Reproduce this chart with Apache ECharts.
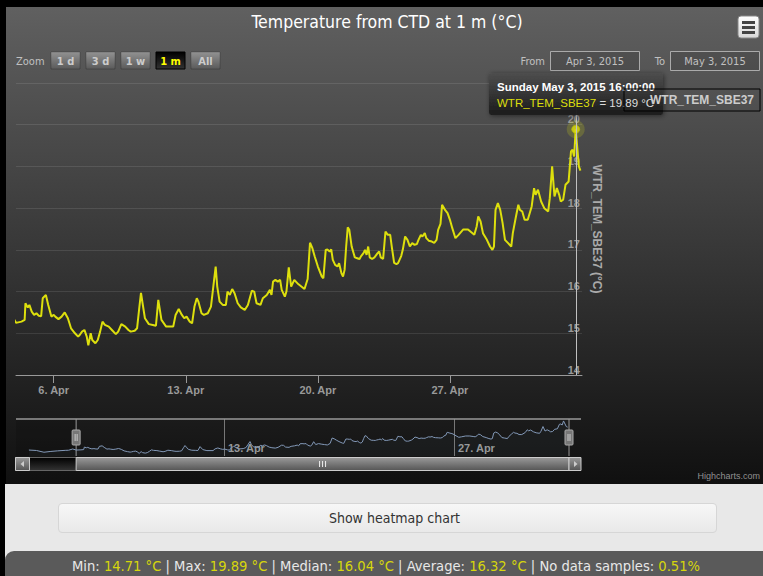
<!DOCTYPE html>
<html>
<head>
<meta charset="utf-8">
<title>Temperature from CTD at 1 m</title>
<script src="https://cdn.jsdelivr.net/npm/echarts@6/dist/echarts.min.js"></script>
<style>
  html, body { margin: 0; padding: 0; background: #000; width: 763px; height: 576px; overflow: hidden; }
  #chart { position: absolute; left: 6px; top: 7px; width: 757px; height: 477px; }
  .below { position: absolute; left: 5px; top: 484px; width: 758px; height: 92px; background: #e8e8e8; }
  .heatBtn {
    position: absolute; left: 53px; top: 19px; width: 657px; height: 28px;
    background: linear-gradient(#f7f7f7, #e9e9e9); border: 1px solid #d6d6d6; border-radius: 4px;
    color: #333; font: 14px "DejaVu Sans Condensed", "Liberation Sans Narrow", "Liberation Sans", sans-serif;
    text-align: center; line-height: 28px; text-indent: 14px;
  }
  .stats {
    position: absolute; left: 0; top: 67px; width: 758px; height: 30px;
    background: #5a5a5a; border-radius: 9px 0 0 0; color: #e8e8e8;
    font: 14.6px "DejaVu Sans Condensed", "Liberation Sans Narrow", "Liberation Sans", sans-serif;
    text-align: center; line-height: 29px; text-indent: 4px;
  }
  .stats span { color: #d6d60c; }
</style>
</head>
<body>
<div id="chart"></div>
<div class="below">
  <div class="heatBtn">Show heatmap chart</div>
  <div class="stats">Min: <span>14.71 °C</span> | Max: <span>19.89 °C</span> | Median: <span>16.04 °C</span> | Average: <span>16.32 °C</span> | No data samples: <span>0.51%</span></div>
</div>
<script>
// hourly samples (MM-DD HH:mm, 2015)
var times = [
  '04-01 03:00','04-01 14:00','04-02 01:00','04-02 10:00','04-02 21:00','04-03 08:00','04-03 13:00','04-03 19:00',
  '04-04 00:00','04-04 07:00','04-04 11:00','04-04 12:00','04-04 15:00','04-04 17:00','04-04 20:00','04-04 23:00',
  '04-05 02:00','04-05 05:00','04-05 08:00','04-05 10:00','04-05 14:00','04-05 17:00','04-05 21:00',
  '04-06 00:00','04-06 02:00','04-06 06:00','04-06 10:00','04-06 14:00','04-06 18:00','04-06 22:00',
  '04-07 03:00','04-07 07:00','04-07 09:00','04-07 12:00','04-07 15:00','04-07 18:00','04-07 20:00','04-07 23:00',
  '04-08 01:00','04-08 05:00','04-08 08:00','04-08 11:00','04-08 14:00','04-08 17:00','04-08 22:00',
  '04-09 02:00','04-09 07:00','04-09 10:00','04-09 14:00','04-09 19:00','04-09 23:00',
  '04-10 02:00','04-10 07:00','04-10 10:00','04-10 13:00','04-10 15:00','04-10 17:00','04-10 20:00',
  '04-11 01:00','04-11 06:00','04-11 10:00','04-11 13:00','04-11 17:00','04-11 23:00',
  '04-12 08:00','04-12 11:00','04-12 15:00','04-12 19:00','04-12 22:00',
  '04-13 01:00','04-13 05:00','04-13 08:00','04-13 11:00','04-13 14:00','04-13 16:00','04-13 20:00','04-13 23:00',
  '04-14 04:00','04-14 08:00','04-14 11:00','04-14 14:00','04-14 16:00','04-14 19:00','04-14 23:00',
  '04-15 03:00','04-15 05:00','04-15 08:00','04-15 11:00','04-15 14:00','04-15 18:00','04-15 22:00',
  '04-16 03:00','04-16 07:00','04-16 12:00','04-16 15:00','04-16 18:00','04-16 23:00',
  '04-17 02:00','04-17 07:00','04-17 11:00','04-17 13:00','04-17 15:00','04-17 18:00','04-17 21:00',
  '04-18 00:00','04-18 02:00','04-18 06:00','04-18 08:00','04-18 11:00','04-18 14:00','04-18 18:00','04-18 23:00',
  '04-19 03:00','04-19 07:00','04-19 11:00','04-19 14:00','04-19 17:00','04-19 20:00',
  '04-20 00:00','04-20 05:00','04-20 07:00','04-20 10:00','04-20 12:00','04-20 15:00','04-20 17:00','04-20 19:00','04-20 22:00',
  '04-21 01:00','04-21 03:00','04-21 06:00','04-21 08:00','04-21 10:00','04-21 12:00','04-21 14:00','04-21 16:00','04-21 19:00','04-21 23:00',
  '04-22 02:00','04-22 05:00','04-22 07:00','04-22 10:00','04-22 12:00','04-22 14:00','04-22 16:00','04-22 18:00','04-22 21:00',
  '04-23 00:00','04-23 04:00','04-23 06:00','04-23 08:00','04-23 11:00','04-23 14:00','04-23 17:00','04-23 20:00','04-23 22:00',
  '04-24 01:00','04-24 04:00','04-24 06:00','04-24 10:00','04-24 12:00','04-24 15:00','04-24 18:00','04-24 21:00',
  '04-25 00:00','04-25 03:00','04-25 06:00','04-25 08:00','04-25 11:00','04-25 13:00','04-25 16:00','04-25 18:00','04-25 21:00',
  '04-26 01:00','04-26 04:00','04-26 07:00','04-26 09:00','04-26 12:00','04-26 14:00','04-26 18:00','04-26 21:00',
  '04-27 00:00','04-27 03:00','04-27 07:00','04-27 11:00','04-27 17:00','04-27 23:00',
  '04-28 04:00','04-28 07:00','04-28 10:00','04-28 12:00','04-28 15:00','04-28 18:00','04-28 23:00',
  '04-29 03:00','04-29 06:00','04-29 08:00','04-29 10:00','04-29 13:00','04-29 16:00','04-29 19:00','04-29 22:00',
  '04-30 02:00','04-30 06:00','04-30 08:00','04-30 12:00','04-30 15:00','04-30 17:00','04-30 20:00','04-30 23:00',
  '05-01 03:00','05-01 08:00','05-01 11:00','05-01 13:00','05-01 16:00','05-01 20:00',
  '05-02 00:00','05-02 05:00','05-02 07:00','05-02 10:00','05-02 13:00','05-02 16:00','05-02 19:00','05-02 21:00',
  '05-03 00:00','05-03 03:00','05-03 07:00','05-03 10:00','05-03 12:00','05-03 14:00','05-03 16:00','05-03 20:00','05-03 22:00'
];
var temps = [
  15.25,15.18,14.90,15.02,15.12,15.20,15.22,15.42,
  15.25,15.28,15.32,15.72,15.62,15.68,15.52,15.44,
  15.48,15.42,15.41,15.84,15.92,15.68,15.40,
  15.44,15.40,15.34,15.40,15.50,15.36,15.12,
  15.00,14.92,14.96,15.04,15.08,14.92,14.71,15.00,
  14.84,14.76,14.84,15.04,15.28,15.20,15.16,
  15.08,14.98,15.04,15.22,15.16,15.08,
  15.04,15.06,15.12,15.64,15.97,15.72,15.36,
  15.22,15.20,15.18,15.80,15.32,15.16,
  15.16,15.44,15.58,15.44,15.36,
  15.40,15.28,15.24,15.64,15.84,15.76,15.48,15.44,
  15.48,15.64,16.12,16.60,16.12,15.76,15.68,
  15.68,16.00,15.92,16.06,15.96,15.72,15.62,
  15.56,15.68,16.02,16.00,15.72,15.68,
  15.84,15.92,16.04,15.92,16.24,16.28,16.24,
  16.28,16.04,15.88,16.00,16.58,16.12,16.28,16.18,
  16.12,16.06,16.30,17.17,17.04,16.84,
  16.60,16.36,16.32,17.00,17.01,16.96,17.01,16.76,16.64,
  16.60,16.68,16.44,16.36,16.52,17.08,17.54,17.48,17.08,16.82,
  16.80,16.78,16.85,16.92,17.00,16.88,17.08,16.82,16.78,
  16.82,16.92,16.96,16.82,16.78,17.44,17.36,17.36,17.08,
  16.69,16.66,16.68,16.85,17.00,17.32,17.24,17.08,
  17.16,17.12,17.14,17.24,17.36,17.32,17.40,17.28,17.22,
  17.20,17.17,17.24,17.48,17.62,18.08,17.95,17.88,
  17.72,17.52,17.28,17.36,17.49,17.49,
  17.41,17.36,17.56,17.80,17.68,17.40,17.24,
  17.08,17.00,17.08,17.96,18.12,17.96,17.64,17.24,
  17.16,17.08,17.40,17.80,18.08,17.96,17.92,17.72,
  17.72,18.04,18.48,18.32,18.44,18.16,
  18.00,17.92,18.24,19.00,18.28,18.48,18.32,18.16,
  18.20,18.56,18.64,19.36,19.40,19.24,19.89,19.00,18.90
];
var seriesName = 'WTR_TEM_SBE37';
var xTickDays = [6, 13, 20, 27];
var navTickDays = [13, 27];
var yTicks = [14, 15, 16, 17, 18, 19, 20, 21];
var zoomButtons = ['1 d', '3 d', '1 w', '1 m', 'All'];
var selectedButton = '1 m';

var FONT = '"Liberation Sans", Arial, Helvetica, sans-serif';
var NARROW = '"DejaVu Sans Condensed", "Liberation Sans Narrow", "Liberation Sans", sans-serif';
var weekdays = ['Sunday','Monday','Tuesday','Wednesday','Thursday','Friday','Saturday'];
var monthNames = ['January','February','March','April','May','June','July','August','September','October','November','December'];

// day of April as a number: 6 = 6 Apr 00:00
function toDay(s) {
  var m = +s.slice(0, 2), d = +s.slice(3, 5), h = +s.slice(6, 8);
  return (Date.UTC(2015, m - 1, d, h) - Date.UTC(2015, 2, 31)) / 864e5;
}
var days = times.map(toDay);
var points = days.map(function (d, i) { return [d, temps[i]]; });
var peak = temps.indexOf(Math.max.apply(null, temps));

function tipTitle(s) {
  var m = +s.slice(0, 2), d = +s.slice(3, 5);
  var wd = new Date(Date.UTC(2015, m - 1, d)).getUTCDay();
  return weekdays[wd] + ' ' + monthNames[m - 1] + ' ' + d + ', 2015 ' + s.slice(6) + ':00';
}

function grad(c1, c2) {
  return new echarts.graphic.LinearGradient(0, 0, 0, 1, [{ offset: 0, color: c1 }, { offset: 1, color: c2 }]);
}

var chart = echarts.init(document.getElementById('chart'), null, { renderer: 'svg' });

var option = {
  animation: false,
  backgroundColor: grad('rgb(96,96,96)', 'rgb(16,16,16)'),
  textStyle: { fontFamily: FONT },
  grid: [
    { left: 10, top: 76, width: 566, height: 292 },
    { left: 10, top: 412, width: 565, height: 37 }
  ],
  // legend box shows through the tooltip in the original, its symbol does not
  legend: {
    data: [seriesName], left: 618, top: 82, padding: [5, 6, 5, 4], zlevel: 1, z: 200,
    borderColor: '#000', borderWidth: 1, itemWidth: 16, itemHeight: 10,
    itemStyle: { opacity: 0 }, lineStyle: { opacity: 0 },
    textStyle: { color: '#CCC', fontWeight: 'bold', fontSize: 12, fontFamily: FONT }
  },
  xAxis: [
    {
      type: 'value', gridIndex: 0, min: 4, max: 34,
      axisLine: { lineStyle: { color: '#999' } },
      axisTick: { length: 8, lineStyle: { color: '#999' }, customValues: xTickDays },
      axisLabel: {
        customValues: xTickDays, margin: 9, color: '#999', fontWeight: 'bold', fontSize: 11, fontFamily: FONT,
        formatter: function (v) { return v + '. Apr'; }
      },
      splitLine: { show: false }
    },
    {
      type: 'value', gridIndex: 1, min: 0.34, max: 34.73,
      axisLine: { show: false },
      axisTick: { show: false, customValues: navTickDays },
      axisLabel: {
        customValues: navTickDays, inside: true, margin: 3, align: 'left', verticalAlign: 'bottom',
        padding: [0, 0, 0, 4], color: '#999', fontWeight: 'bold', fontSize: 11, fontFamily: FONT,
        formatter: function (v) { return v + '. Apr'; }
      },
      splitLine: { show: true, lineStyle: { color: '#777' } }
    }
  ],
  yAxis: [
    {
      type: 'value', gridIndex: 0, position: 'right', min: yTicks[0], max: yTicks[yTicks.length - 1], interval: 1,
      axisLine: { show: false }, axisTick: { show: false },
      // the top label sits under the tooltip in the original
      axisLabel: { inside: true, margin: 2, verticalAlign: 'bottom', showMaxLabel: false, color: '#999', fontWeight: 'bold', fontSize: 11, fontFamily: FONT },
      splitLine: { lineStyle: { color: 'rgba(255,255,255,0.1)' } },
      name: seriesName + ' (°C)', nameLocation: 'middle', nameRotate: -90, nameGap: 5,
      nameTextStyle: { color: '#AAA', fontWeight: 'bold', fontSize: 12, fontFamily: FONT }
    },
    { type: 'value', gridIndex: 1, min: 14.3, max: 20.2, show: false, splitLine: { show: false } }
  ],
  series: [
    {
      name: seriesName, type: 'line', xAxisIndex: 0, yAxisIndex: 0, data: points,
      showSymbol: false, color: '#DDDF0D', lineStyle: { color: '#DDDF0D', width: 2 }, silent: true,
      markLine: {
        silent: true, symbol: 'none', label: { show: false },
        lineStyle: { color: '#C0C0C0', width: 1, type: 'solid' },
        data: [{ xAxis: days[peak] }]
      }
    },
    {
      type: 'scatter', xAxisIndex: 0, yAxisIndex: 0, data: [[days[peak], temps[peak]]],
      symbolSize: 18, itemStyle: { color: 'rgba(221,223,13,0.25)' }, silent: true, z: 3
    },
    {
      type: 'scatter', xAxisIndex: 0, yAxisIndex: 0, data: [[days[peak], temps[peak]]],
      symbolSize: 8, itemStyle: { color: '#DDDF0D', borderColor: '#b5b70a', borderWidth: 1 }, silent: true, z: 4
    },
    {
      type: 'line', xAxisIndex: 1, yAxisIndex: 1, data: points, showSymbol: false, silent: true,
      lineStyle: { color: '#8399b8', width: 1 }, areaStyle: { color: 'rgba(119,152,191,0.06)' }
    }
  ]
};
chart.setOption(option);

// navigator handles / scrollbar placed from the navigator axis
var hl = chart.convertToPixel({ xAxisIndex: 1 }, days[times.indexOf('04-04 00:00')]);
var hr = chart.convertToPixel({ xAxisIndex: 1 }, 34);
var navTop = 412, navBot = 449, sbTop = 450, sbH = 13;

function handle(x) {
  return {
    type: 'group', x: x - 4, y: 423,
    children: [
      { type: 'rect', shape: { x: 0, y: 0, width: 8, height: 15, r: 1 }, style: { fill: '#777', stroke: '#AAA', lineWidth: 1 }, z: 10 },
      { type: 'line', shape: { x1: 3, y1: 4, x2: 3, y2: 11 }, style: { stroke: '#ccc', lineWidth: 1 }, z: 11 },
      { type: 'line', shape: { x1: 5, y1: 4, x2: 5, y2: 11 }, style: { stroke: '#ccc', lineWidth: 1 }, z: 11 }
    ]
  };
}

var btnX = [45, 80, 115, 150, 185];
var TIPZ = 100;
var graphics = [
  { type: 'text', x: 381, y: 15, style: { text: 'Temperature from CTD at 1 m (°C)', fill: '#fff', fontSize: 17.5, fontFamily: NARROW, align: 'center', verticalAlign: 'middle' } },
  // export menu icon
  { type: 'group', x: 732, y: 9, children: [
    { type: 'rect', shape: { x: 0, y: 0, width: 21, height: 22, r: 3 }, style: { fill: grad('#ffffff', '#d8d8d8'), stroke: '#888', lineWidth: 1 } },
    { type: 'rect', shape: { x: 4, y: 5, width: 13, height: 3 }, style: { fill: '#444' } },
    { type: 'rect', shape: { x: 4, y: 10, width: 13, height: 3 }, style: { fill: '#444' } },
    { type: 'rect', shape: { x: 4, y: 15, width: 13, height: 3 }, style: { fill: '#444' } }
  ] },
  { type: 'text', x: 10, y: 54, style: { text: 'Zoom', fill: 'silver', fontSize: 11, fontFamily: NARROW, verticalAlign: 'middle' } },
  { type: 'text', x: 539, y: 54, style: { text: 'From', fill: 'silver', fontSize: 11, fontFamily: NARROW, align: 'right', verticalAlign: 'middle' } },
  { type: 'rect', shape: { x: 544.5, y: 44.5, width: 89, height: 19 }, style: { fill: 'rgba(51,51,51,0.25)', stroke: '#aaa', lineWidth: 1 } },
  { type: 'text', x: 589, y: 54, style: { text: 'Apr 3, 2015', fill: 'silver', fontSize: 11, fontFamily: NARROW, align: 'center', verticalAlign: 'middle' } },
  { type: 'text', x: 659, y: 54, style: { text: 'To', fill: 'silver', fontSize: 11, fontFamily: NARROW, align: 'right', verticalAlign: 'middle' } },
  { type: 'rect', shape: { x: 664.5, y: 44.5, width: 89, height: 19 }, style: { fill: 'rgba(51,51,51,0.25)', stroke: '#aaa', lineWidth: 1 } },
  { type: 'text', x: 709, y: 54, style: { text: 'May 3, 2015', fill: 'silver', fontSize: 11, fontFamily: NARROW, align: 'center', verticalAlign: 'middle' } },
  // navigator outline, masks, handles
  { type: 'rect', shape: { x: 10, y: navTop, width: hl - 10, height: navBot - navTop }, style: { fill: 'rgba(0,0,0,0.12)' } },
  { type: 'polyline', shape: { points: [[10, navTop], [575, navTop]] }, style: { stroke: '#999', lineWidth: 1.5, fill: null } },
  { type: 'line', shape: { x1: hl, y1: navTop, x2: hl, y2: navBot }, style: { stroke: '#999', lineWidth: 1 } },
  { type: 'line', shape: { x1: hr, y1: navTop, x2: hr, y2: navBot }, style: { stroke: '#999', lineWidth: 1 } },
  handle(hl), handle(hr),
  // scrollbar
  { type: 'rect', shape: { x: 9.5, y: sbTop + 0.5, width: 565, height: sbH }, style: { fill: grad('#000', '#333'), stroke: '#666', lineWidth: 1 } },
  { type: 'rect', shape: { x: 9.5, y: sbTop + 0.5, width: 14, height: sbH }, style: { fill: grad('#999', '#555'), stroke: '#CCC', lineWidth: 1 } },
  { type: 'polygon', shape: { points: [[18, sbTop + 4], [18, sbTop + 10], [14.5, sbTop + 7]] }, style: { fill: '#ccc' } },
  { type: 'rect', shape: { x: hl, y: sbTop + 0.5, width: hr - hl, height: sbH }, style: { fill: grad('#999', '#555'), stroke: '#CCC', lineWidth: 1 } },
  { type: 'rect', shape: { x: hr, y: sbTop + 0.5, width: 575 - hr, height: sbH }, style: { fill: grad('#999', '#555'), stroke: '#CCC', lineWidth: 1 } },
  { type: 'polygon', shape: { points: [[hr + 5, sbTop + 4], [hr + 5, sbTop + 10], [hr + 8.5, sbTop + 7]] }, style: { fill: '#ccc' } },
  { type: 'line', shape: { x1: (hl + hr) / 2 - 3, y1: sbTop + 4, x2: (hl + hr) / 2 - 3, y2: sbTop + 10 }, style: { stroke: '#eee', lineWidth: 1 } },
  { type: 'line', shape: { x1: (hl + hr) / 2, y1: sbTop + 4, x2: (hl + hr) / 2, y2: sbTop + 10 }, style: { stroke: '#eee', lineWidth: 1 } },
  { type: 'line', shape: { x1: (hl + hr) / 2 + 3, y1: sbTop + 4, x2: (hl + hr) / 2 + 3, y2: sbTop + 10 }, style: { stroke: '#eee', lineWidth: 1 } },
  { type: 'text', x: 754, y: 469, style: { text: 'Highcharts.com', fill: '#909090', fontSize: 9, fontFamily: FONT, align: 'right', verticalAlign: 'middle' } },
  // tooltip for the hovered point
  { type: 'group', x: 483, y: 66, zlevel: 1, z: TIPZ, children: [
    { type: 'rect', zlevel: 1, z: TIPZ, shape: { x: 0, y: 0, width: 174, height: 42, r: 3 }, style: { fill: grad('rgba(78,78,78,0.95)', 'rgba(26,26,26,0.95)'), shadowBlur: 5, shadowColor: 'rgba(0,0,0,0.5)', shadowOffsetX: 1, shadowOffsetY: 1 } },
    { type: 'text', zlevel: 1, z: TIPZ + 1, x: 8, y: 14, style: { text: tipTitle(times[peak]), fill: '#fff', fontSize: 11.5, fontWeight: 'bold', fontFamily: FONT, verticalAlign: 'middle' } },
    { type: 'text', zlevel: 1, z: TIPZ + 1, x: 8, y: 30, style: {
      text: '{n|' + seriesName + '} {v|= ' + temps[peak].toFixed(2) + ' °C}', verticalAlign: 'middle',
      rich: { n: { fill: '#DDDF0D', fontSize: 11.5, fontFamily: FONT }, v: { fill: '#ddd', fontSize: 11.5, fontFamily: FONT } }
    } }
  ] }
];
zoomButtons.forEach(function (b, i) {
  var on = b === selectedButton;
  graphics.push({ type: 'group', x: btnX[i], y: 45, children: [
    { type: 'rect', shape: { x: 0, y: 0, width: 29, height: 17 }, style: { fill: on ? grad('#000', '#333') : grad('#929292', '#5a5a5a'), stroke: on ? '#000' : 'rgba(0,0,0,0.2)', lineWidth: 1 } },
    { type: 'text', x: 14.5, y: 9, style: { text: b, fill: on ? 'yellow' : '#CCC', fontSize: 11, fontWeight: 'bold', fontFamily: NARROW, align: 'center', verticalAlign: 'middle' } }
  ] });
});
chart.setOption({ graphic: graphics });
</script>
</body>
</html>
